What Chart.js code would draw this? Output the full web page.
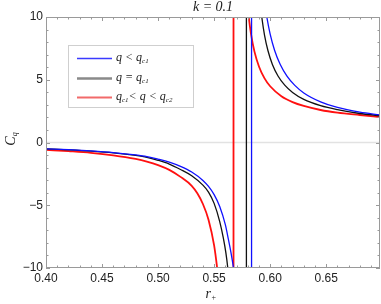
<!DOCTYPE html>
<html><head><meta charset="utf-8">
<script src="https://cdn.jsdelivr.net/npm/chart.js@4"></script>
<style>html,body{margin:0;padding:0;background:#fff}</style>
</head><body>
<canvas id="c" width="381" height="304"></canvas>
<script>
// ---- data ----
const xTicks = [0.40, 0.45, 0.50, 0.55, 0.60, 0.65];
const yTicks = [-10, -5, 0, 5, 10];

const redLeftX  = [0.400, 0.420, 0.440, 0.460, 0.480, 0.490, 0.500, 0.510, 0.520, 0.530, 0.535, 0.540, 0.545, 0.550, 0.5527, 0.5550];
const redLeftY  = [-0.58, -0.69, -0.82, -1.02, -1.31, -1.52, -1.80, -2.18, -2.74, -3.45, -4.05, -4.90, -6.15, -8.20, -10.0, -11.9];
const blackLeftX = [0.400, 0.420, 0.440, 0.460, 0.480, 0.490, 0.500, 0.510, 0.520, 0.530, 0.540, 0.545, 0.550, 0.555, 0.5582, 0.5605, 0.5622, 0.5635];
const blackLeftY = [-0.50, -0.58, -0.68, -0.82, -1.03, -1.18, -1.42, -1.72, -2.15, -2.65, -3.40, -3.95, -4.85, -6.30, -7.60, -8.80, -10.0, -11.2];
const blueLeftX = [0.400, 0.420, 0.440, 0.460, 0.480, 0.490, 0.500, 0.510, 0.520, 0.530, 0.540, 0.545, 0.550, 0.555, 0.560, 0.5627, 0.565, 0.5673, 0.5685];
const blueLeftY = [-0.50, -0.57, -0.67, -0.80, -0.99, -1.12, -1.32, -1.56, -1.90, -2.35, -3.02, -3.50, -4.15, -5.10, -6.55, -7.70, -8.75, -10.0, -10.8];

const redRightX = [0.5795, 0.5809, 0.583, 0.586, 0.590, 0.595, 0.600, 0.610, 0.620, 0.630, 0.645, 0.660, 0.680, 0.698];
const redRightY = [11.28, 10.0, 8.60, 7.24, 6.06, 5.11, 4.48, 3.69, 3.22, 2.91, 2.59, 2.38, 2.19, 2.03];
const blackRightX = [0.5915, 0.5925, 0.595, 0.598, 0.602, 0.607, 0.613, 0.620, 0.630, 0.645, 0.660, 0.680, 0.698];
const blackRightY = [10.76, 10.0, 8.54, 7.33, 6.22, 5.30, 4.57, 3.99, 3.44, 2.94, 2.62, 2.31, 2.14];
const blueRightX = [0.5958, 0.597, 0.600, 0.604, 0.609, 0.615, 0.622, 0.630, 0.645, 0.660, 0.680, 0.698];
const blueRightY = [10.69, 10.0, 8.63, 7.33, 6.21, 5.29, 4.55, 3.95, 3.24, 2.79, 2.42, 2.20];

const poleX = {red: 0.5673, black: 0.5788, blue: 0.5834};

const colors = {blue: '#1010ff', black: '#111111', red: '#ff1010'};
const widths = {blue: 1.3, black: 1.3, red: 1.8};

// ---- build datasets ----
function pts(xs, ys){ return xs.map((x,i)=>({x, y: ys[i]})); }
function branch(xs, ys, key){
  return {data: pts(xs, ys), borderColor: colors[key], borderWidth: widths[key],
    showLine: true, pointRadius: 0, fill: false, cubicInterpolationMode: 'monotone'};
}
function pole(key){
  return {data: [{x: poleX[key], y: -11}, {x: poleX[key], y: 11}], borderColor: colors[key],
    borderWidth: widths[key], showLine: true, pointRadius: 0, fill: false, tension: 0};
}
const datasets = [
  branch(blueLeftX, blueLeftY, 'blue'), branch(blueRightX, blueRightY, 'blue'), pole('blue'),
  branch(blackLeftX, blackLeftY, 'black'), branch(blackRightX, blackRightY, 'black'), pole('black'),
  branch(redLeftX, redLeftY, 'red'), branch(redRightX, redRightY, 'red'), pole('red')
];

const SANS = '"Liberation Sans", Arial, sans-serif';
const SERIF = '"Liberation Serif", "Times New Roman", serif';

function rich(ctx, x, y, parts, size){
  let cx = x;
  for (const p of parts){
    if (p.sub){ ctx.font = 'italic ' + Math.round(size*0.6) + 'px ' + SERIF; ctx.fillText(p.t, cx, y + size*0.28); }
    else { ctx.font = 'italic ' + size + 'px ' + SERIF; ctx.fillText(p.t, cx, y); }
    cx += ctx.measureText(p.t).width;
  }
  return cx - x;
}
function richWidth(ctx, parts, size){
  let w = 0;
  for (const p of parts){
    ctx.font = 'italic ' + (p.sub ? Math.round(size*0.6) : size) + 'px ' + SERIF;
    w += ctx.measureText(p.t).width;
  }
  return w;
}

const decor = {
  id: 'decor',
  beforeDatasetsDraw(chart){
    const {ctx, chartArea: a, scales: {y}} = chart;
    ctx.save();
    ctx.strokeStyle = '#e2e2e2'; ctx.lineWidth = 1.5;
    const y0 = y.getPixelForValue(0);
    ctx.beginPath(); ctx.moveTo(a.left, y0); ctx.lineTo(a.right, y0); ctx.stroke();
    ctx.restore();
  },
  afterDatasetsDraw(chart){
    const {ctx, chartArea: a, scales: {x, y}} = chart;
    ctx.save();
    // frame
    ctx.strokeStyle = '#9a9a9a'; ctx.lineWidth = 1;
    ctx.strokeRect(a.left + 0.5, a.top + 0.5, a.right - a.left - 1, a.bottom - a.top - 1);
    // ticks
    ctx.beginPath();
    for (let i = 0; i <= 29; i++){
      const v = 0.40 + i * 0.01;
      const px = Math.round(x.getPixelForValue(v)) + 0.5;
      const len = (i % 5 === 0) ? 4 : 2.5;
      ctx.moveTo(px, a.bottom); ctx.lineTo(px, a.bottom - len);
      ctx.moveTo(px, a.top); ctx.lineTo(px, a.top + len);
    }
    for (let v = -10; v <= 10; v++){
      const py = Math.round(y.getPixelForValue(v)) + 0.5;
      const len = (v % 5 === 0) ? 4 : 2.5;
      ctx.moveTo(a.left, py); ctx.lineTo(a.left + len, py);
      ctx.moveTo(a.right, py); ctx.lineTo(a.right - len, py);
    }
    ctx.stroke();

    // legend box
    ctx.fillStyle = '#fff';
    ctx.fillRect(68.5, 45.5, 125, 62);
    ctx.strokeStyle = '#cfcfcf'; ctx.lineWidth = 1;
    ctx.strokeRect(68.5, 45.5, 125, 62);
    const entries = [
      {c: '#3a3aff', w: 1.3, y: 58, parts: [{t:'q < q'}, {t:'c1', sub:true}]},
      {c: '#8a8a8a', w: 2.4, y: 78, parts: [{t:'q = q'}, {t:'c1', sub:true}]},
      {c: '#f26a6a', w: 1.8, y: 97, parts: [{t:'q'}, {t:'c1', sub:true}, {t:'< q < q'}, {t:'c2', sub:true}]}
    ];
    for (const e of entries){
      ctx.strokeStyle = e.c; ctx.lineWidth = e.w;
      ctx.beginPath(); ctx.moveTo(77, e.y + 0.5); ctx.lineTo(112, e.y + 0.5); ctx.stroke();
      ctx.fillStyle = '#222'; ctx.textBaseline = 'middle'; ctx.textAlign = 'left';
      rich(ctx, 116, e.y, e.parts, 12);
    }

    // title
    ctx.fillStyle = '#222'; ctx.textBaseline = 'middle'; ctx.textAlign = 'center';
    ctx.font = 'italic 14px ' + SERIF;
    ctx.fillText('k = 0.1', (a.left + a.right) / 2, 7);

    // x axis title
    ctx.textAlign = 'left';
    const rparts = [{t:'r'}, {t:'+', sub:true}];
    const rw = richWidth(ctx, rparts, 14);
    rich(ctx, 211 - rw / 2, 294, rparts, 14);

    // y axis title (rotated)
    ctx.save();
    ctx.translate(11, 139);
    ctx.rotate(-Math.PI / 2);
    ctx.textAlign = 'left';
    const yparts = [{t:'C'}, {t:'q', sub:true}];
    const w = richWidth(ctx, yparts, 14);
    rich(ctx, -w / 2, 0, yparts, 14);
    ctx.restore();

    ctx.restore();
  }
};

new Chart(document.getElementById('c').getContext('2d'), {
  type: 'scatter',
  data: {datasets},
  options: {
    responsive: false, animation: false, devicePixelRatio: 1,
    layout: {padding: {top: 17, right: 1, left: 0, bottom: 0}},
    plugins: {legend: {display: false}, tooltip: {enabled: false}, title: {display: false}},
    scales: {
      x: {
        type: 'linear', min: 0.40, max: 0.698,
        afterBuildTicks: s => { s.ticks = xTicks.map(v => ({value: v})); },
        afterFit: s => { s.height = 36; },
        grid: {display: false, drawTicks: false}, border: {display: false},
        ticks: {padding: 3, color: '#222', font: {family: SANS, size: 12}, maxRotation: 0, autoSkip: false,
          callback: v => Number(v).toFixed(2)}
      },
      y: {
        type: 'linear', min: -10, max: 10,
        afterBuildTicks: s => { s.ticks = yTicks.map(v => ({value: v})); },
        afterFit: s => { s.width = 46; },
        grid: {display: false, drawTicks: false}, border: {display: false},
        ticks: {padding: 3, color: '#222', font: {family: SANS, size: 12}, autoSkip: false,
          callback: v => (v < 0 ? '\u2212' + Math.abs(v) : String(v))}
      }
    }
  },
  plugins: [decor]
});
</script>
</body></html>
